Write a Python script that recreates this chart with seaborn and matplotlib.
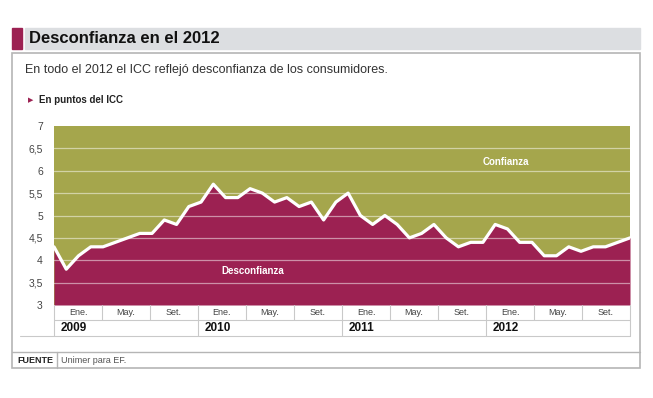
import numpy as np
import pandas as pd
import matplotlib
matplotlib.use("Agg")
import matplotlib.pyplot as plt
import seaborn as sns
from matplotlib.patches import Rectangle
from matplotlib.lines import Line2D

# --- data: ICC monthly, Jan 2009 - Dec 2012 ---
icc_2009 = [4.3, 3.8, 4.1, 4.3, 4.3, 4.4, 4.5, 4.6, 4.6, 4.9, 4.8, 5.2]
icc_2010 = [5.3, 5.7, 5.4, 5.4, 5.6, 5.5, 5.3, 5.4, 5.2, 5.3, 4.9, 5.3]
icc_2011 = [5.5, 5.0, 4.8, 5.0, 4.8, 4.5, 4.6, 4.8, 4.5, 4.3, 4.4, 4.4]
icc_2012 = [4.8, 4.7, 4.4, 4.4, 4.1, 4.1, 4.3, 4.2, 4.3, 4.3, 4.4, 4.5]
years = ["2009", "2010", "2011", "2012"]
month_labels = ["Ene.", "May.", "Set."]
y_ticks = [3, 3.5, 4, 4.5, 5, 5.5, 6, 6.5, 7]

df = pd.DataFrame({"icc": icc_2009 + icc_2010 + icc_2011 + icc_2012})
df["mes"] = np.arange(len(df))

olive = "#a5a64c"
maroon = "#9c2152"
grey_line = "#c9c9c9"

W, H = 653, 398
sns.set_style("white")
plt.rcParams["font.family"] = ["Liberation Sans", "DejaVu Sans"]
narrow = ["Liberation Sans Narrow", "Liberation Sans", "DejaVu Sans"]

fig = plt.figure(figsize=(W / 100, H / 100), dpi=100)


def fx(x):
    return x / W


def fy(y):
    return 1 - y / H


def hline(x0, x1, y, color=grey_line, lw=0.8):
    fig.add_artist(Line2D([fx(x0), fx(x1)], [fy(y), fy(y)], color=color, lw=lw,
                          transform=fig.transFigure))


def vline(x, y0, y1, color=grey_line, lw=0.8):
    fig.add_artist(Line2D([fx(x), fx(x)], [fy(y0), fy(y1)], color=color, lw=lw,
                          transform=fig.transFigure))


# --- header ---
fig.add_artist(Rectangle((fx(12), fy(48.5)), 9.5 / W, 20.5 / H, color=maroon,
                         transform=fig.transFigure))
fig.add_artist(Rectangle((fx(25), fy(48.5)), 615 / W, 20.5 / H, color="#dcdee1",
                         transform=fig.transFigure))
fig.text(fx(29), fy(38.5), "Desconfianza en el 2012", fontsize=12, fontweight="bold",
         family=narrow, color="#111111", va="center")

# panel frame
fig.add_artist(Rectangle((fx(12), fy(368)), 628 / W, 315 / H, fill=False,
                         ec="#b5b5b5", lw=1.2, transform=fig.transFigure))
fig.text(fx(25), fy(70), "En todo el 2012 el ICC reflejó desconfianza de los consumidores.",
         fontsize=9, color="#333333", va="center")
fig.text(fx(28), fy(100.5), "\u25B6", fontsize=5, color=maroon, va="center")
fig.text(fx(39), fy(100), "En puntos del ICC", fontsize=7, fontweight="bold",
         family=narrow, color="#222222", va="center")

# --- chart ---
ax = fig.add_axes([fx(54), fy(305), 576 / W, 179 / H])
ax.set_facecolor(olive)
ax.fill_between(df["mes"], df["icc"], 3, color=maroon, lw=0, zorder=1)
for v in y_ticks[1:-1]:
    ax.axhline(v, color="white", alpha=0.5, lw=0.9, zorder=2)
sns.lineplot(data=df, x="mes", y="icc", color="white", lw=2.3, ax=ax, zorder=3)
ax.set_xlim(0, len(df) - 1)
ax.set_ylim(3, 7)
ax.set_xticks([])
ax.set_yticks(y_ticks)
ax.set_yticklabels([f"{v:g}".replace(".", ",") for v in y_ticks], family=narrow)
ax.tick_params(axis="y", length=0, pad=8, labelsize=7.5, labelcolor="#444444")
ax.set_xlabel("")
ax.set_ylabel("")
for s in ax.spines.values():
    s.set_visible(False)

ax.text(36.9, 6.2, "Confianza", color="white", fontsize=7, fontweight="bold",
        family=narrow, ha="center", va="center")
ax.text(16.2, 3.76, "Desconfianza", color="white", fontsize=7, fontweight="bold",
        family=narrow, ha="center", va="center")

# --- month / year label rows ---
x0, cell = 54, 48
ncells = len(years) * len(month_labels)
hline(x0, x0 + cell * ncells, 320)
hline(20, x0 + cell * ncells, 336)
for i in range(ncells + 1):
    xc = x0 + cell * i
    if i % len(month_labels) == 0:
        vline(xc, 305, 336)
    else:
        vline(xc, 305, 320)
for i in range(ncells):
    fig.text(fx(x0 + cell * i + cell / 2), fy(312.5), month_labels[i % len(month_labels)],
             fontsize=6.5, family=narrow, color="#444444", ha="center", va="center")
for j, yr in enumerate(years):
    fig.text(fx(x0 + cell * len(month_labels) * j + 7), fy(328), yr, fontsize=8.5,
             fontweight="bold", color="#111111", ha="left", va="center")

# --- footer ---
hline(12, 640, 352, color="#b5b5b5", lw=1)
vline(57, 352, 368, color="#b5b5b5", lw=1)
fig.text(fx(17), fy(360.5), "FUENTE", fontsize=6.5, fontweight="bold", color="#222222",
         va="center")
fig.text(fx(61), fy(360.5), "Unimer para EF.", fontsize=6.5, family=narrow, color="#555555",
         va="center")

fig.savefig("out.png", dpi=100)
